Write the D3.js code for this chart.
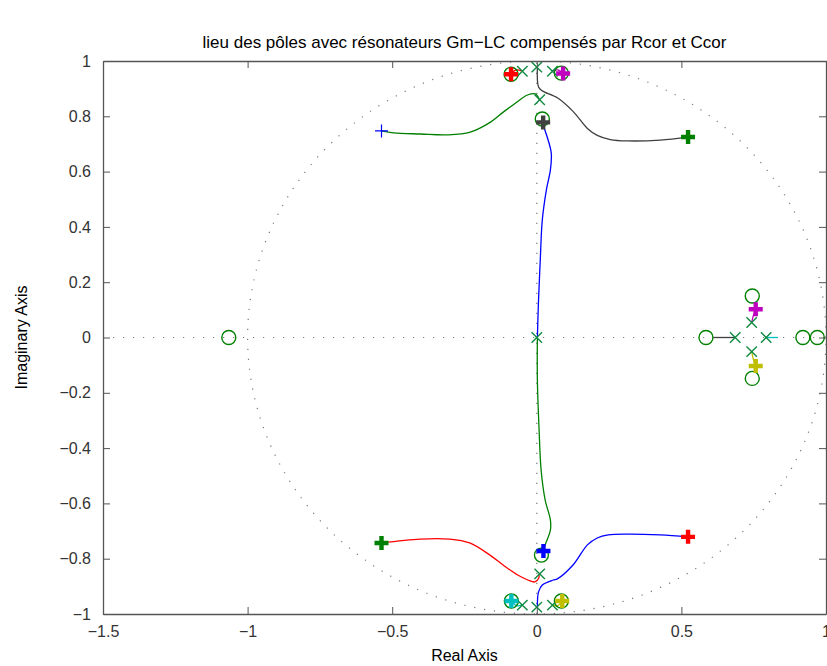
<!DOCTYPE html>
<html><head><meta charset="utf-8">
<script src="https://cdn.jsdelivr.net/npm/d3@7/dist/d3.min.js"></script>
<style>body{margin:0;background:#fff}svg{display:block}text{font-family:"Liberation Sans",Arial,Helvetica,sans-serif}</style>
</head><body>
<svg id="c" width="827" height="666"></svg>
<script>
// ---------- data ----------
const xTicks = [-1.5, -1, -0.5, 0, 0.5, 1];
const yTicks = [-1, -0.8, -0.6, -0.4, -0.2, 0, 0.2, 0.4, 0.6, 0.8, 1];
const titleText = "lieu des pôles avec résonateurs Gm\u2212LC compensés par Rcor et Ccor";

// open-loop poles (x) and zeros (o)
const polesRe = [0, -0.05, 0.054, 0.01, 0, 0.01, -0.05, 0, 0.054, 0.743, 0.686, 0.793, 0.743];
const polesIm = [0.978, 0.963, 0.963, 0.86, 0, -0.855, -0.968, -0.975, -0.968, 0.054, 0, 0, -0.051];
const zerosRe = [-0.089, 0.085, 0.019, 0.745, 0.585, 0.92, 0.97, 0.745, 0.016, -0.088, 0.085, -1.065];
const zerosIm = [0.952, 0.956, 0.79, 0.150, 0, 0, 0, -0.148, -0.787, -0.953, -0.953, 0];

// closed-loop poles at the selected gain (thick +)
const gainRe = [-0.089, 0.091, 0.022, 0.523, -0.537, 0.023, 0.523, -0.088, 0.088, 0.757, 0.757];
const gainIm = [0.952, 0.955, 0.778, 0.725, -0.743, -0.772, -0.721, -0.953, -0.953, 0.102, -0.103];
// thin + end point
const endRe = [-0.537];
const endIm = [0.747];

// root-locus branches
const branchBlackTop = [[0.002,0.978],[0.006,0.906],[0.019,0.892],[0.071,0.867],[0.126,0.817],[0.175,0.756],[0.209,0.731],[0.254,0.716],[0.313,0.711],[0.427,0.714],[0.523,0.725]];
const branchGreenTop = [[-0.537,0.747],[-0.495,0.740],[-0.402,0.736],[-0.309,0.733],[-0.230,0.743],[-0.160,0.779],[-0.115,0.816],[-0.081,0.842],[-0.032,0.877],[-0.005,0.881],[0.009,0.860]];
const branchBlueMid = [[0.019,0.776],[0.036,0.725],[0.050,0.667],[0.047,0.606],[0.033,0.533],[0.019,0.425],[0.012,0.28],[0.006,0.136],[0.002,0]];
const branchGreenMid = [[0.002,0],[0.002,-0.155],[0.008,-0.335],[0.015,-0.48],[0.029,-0.588],[0.047,-0.660],[0.047,-0.697],[0.029,-0.75],[0.019,-0.78]];
const branchRedBot = [[-0.538,-0.743],[-0.403,-0.729],[-0.301,-0.729],[-0.232,-0.743],[-0.162,-0.787],[-0.111,-0.827],[-0.066,-0.859],[-0.031,-0.877],[-0.007,-0.884],[0.007,-0.870],[0.007,-0.855]];
const branchBlueBot = [[0.002,-0.978],[0.006,-0.920],[0.019,-0.895],[0.057,-0.877],[0.071,-0.873],[0.126,-0.822],[0.175,-0.750],[0.209,-0.725],[0.247,-0.714],[0.313,-0.711],[0.427,-0.714],[0.523,-0.721]];
const branchRedTop = [[-0.05,0.963],[-0.07,0.968],[-0.089,0.955]];
const branchMagTop = [[0.054,0.963],[0.072,0.968],[0.091,0.955]];
const branchCyanBot = [[-0.05,-0.968],[-0.07,-0.970],[-0.088,-0.953]];
const branchYelBot = [[0.054,-0.968],[0.072,-0.970],[0.088,-0.953]];
const branchBlackRight = [[0.61,0],[0.686,0]];
const branchCyanRight = [[0.793,0],[0.834,0]];
const branchMagRight = [[0.743,0.054],[0.749,0.08],[0.757,0.102]];
const branchYelRight = [[0.743,-0.051],[0.749,-0.08],[0.757,-0.103]];

// ---------- drawing ----------
const W = 827, H = 666;
const m = {l:103, r:826, t:61, b:614};
const x = d3.scaleLinear().domain([-1.5, 1]).range([m.l, m.r]);
const y = d3.scaleLinear().domain([-1, 1]).range([m.b, m.t]);
const svg = d3.select("#c");

const C = {green:"#008000", blue:"#0000ff", red:"#ff0000", cyan:"#00bfbf", mag:"#bf00bf", yel:"#bfbf00", dark:"#404040", mk:"#108a40"};
const fmt = v => (v < 0 ? "\u2212" : "") + String(Math.abs(v));

const plot = svg.append("g");
svg.append("clipPath").attr("id","pc").append("rect").attr("x",m.l).attr("y",m.t).attr("width",m.r-m.l).attr("height",m.b-m.t);
const inner = plot.append("g").attr("clip-path","url(#pc)");

// dotted grid: unit circle, real and imaginary axes
const circ = d3.range(0, 361, 0.5).map(a => [Math.cos(a*Math.PI/180), Math.sin(a*Math.PI/180)]);
const line = d3.line().x(d => x(d[0])).y(d => y(d[1]));
const dotted = {stroke:"#7a7a7a", "stroke-width":1.2, "stroke-dasharray":"1.2,8.8", fill:"none"};
function sty(sel, o){ for (const k in o) sel.attr(k, o[k]); return sel; }
sty(inner.append("path").attr("d", line(circ)), dotted);
sty(inner.append("path").attr("d", line([[-1.5,0],[1,0]])), dotted);
sty(inner.append("path").attr("d", line([[0,-1],[0,1]])), dotted);

// branches
const branches = [
  [branchBlackTop, C.dark], [branchGreenTop, C.green], [branchBlueMid, C.blue], [branchGreenMid, C.green],
  [branchRedBot, C.red], [branchBlueBot, C.blue], [branchRedTop, C.red], [branchMagTop, C.mag],
  [branchCyanBot, C.cyan], [branchYelBot, C.yel], [branchBlackRight, C.dark], [branchCyanRight, C.cyan],
  [branchMagRight, C.mag], [branchYelRight, C.yel]
];
const curve = d3.line().x(d => x(d[0])).y(d => y(d[1])).curve(d3.curveCatmullRom.alpha(0.5));
branches.forEach(([pts, col]) => {
  inner.append("path").attr("d", curve(pts)).attr("fill","none").attr("stroke",col).attr("stroke-width",1.3);
});

// zeros
zerosRe.forEach((re, i) => {
  inner.append("circle").attr("cx", x(re)).attr("cy", y(zerosIm[i])).attr("r", 7)
    .attr("fill","none").attr("stroke", C.green).attr("stroke-width",1.4);
});
// poles
polesRe.forEach((re, i) => {
  const cx = x(re), cy = y(polesIm[i]), s = 5.2;
  inner.append("path").attr("d", `M${cx-s},${cy-s}L${cx+s},${cy+s}M${cx-s},${cy+s}L${cx+s},${cy-s}`)
    .attr("stroke", C.mk).attr("stroke-width",1.4).attr("fill","none");
});
// thin +
endRe.forEach((re, i) => {
  const cx = x(re), cy = y(endIm[i]), s = 6.5;
  inner.append("path").attr("d", `M${cx-s},${cy}L${cx+s},${cy}M${cx},${cy-s}L${cx},${cy+s}`)
    .attr("stroke", C.blue).attr("stroke-width",1.2);
});
// thick + (closed-loop poles)
const gainCols = [C.red, C.mag, C.dark, C.green, C.green, C.blue, C.red, C.cyan, C.yel, C.mag, C.yel];
gainRe.forEach((re, i) => {
  const cx = x(re), cy = y(gainIm[i]), s = 7;
  inner.append("path").attr("d", `M${cx-s},${cy}L${cx+s},${cy}M${cx},${cy-s}L${cx},${cy+s}`)
    .attr("stroke", gainCols[i]).attr("stroke-width",4.4);
});

// axes box + ticks (inward, all sides)
const axCol = "#555";
const gB = svg.append("g").attr("transform",`translate(0,${m.b})`).call(d3.axisBottom(x).tickValues(xTicks).tickFormat(fmt).tickSizeInner(-7).tickSizeOuter(0).tickPadding(12));
const gT = svg.append("g").attr("transform",`translate(0,${m.t})`).call(d3.axisTop(x).tickValues(xTicks).tickFormat("").tickSizeInner(-7).tickSizeOuter(0));
const gL = svg.append("g").attr("transform",`translate(${m.l},0)`).call(d3.axisLeft(y).tickValues(yTicks).tickFormat(fmt).tickSizeInner(-7).tickSizeOuter(0).tickPadding(12));
const gR = svg.append("g").attr("transform",`translate(${m.r},0)`).call(d3.axisRight(y).tickValues(yTicks).tickFormat("").tickSizeInner(-7).tickSizeOuter(0));
[gB,gT,gL,gR].forEach(g => {
  g.select(".domain").attr("stroke", axCol).attr("stroke-width",1.3);
  g.selectAll(".tick line").attr("stroke", axCol).attr("stroke-width",1);
  g.selectAll(".tick text").attr("fill","#333").style("font-size","16px").style("font-family",'"Liberation Sans",Arial,sans-serif');
});

// title and labels
svg.append("text").attr("x",(m.l+m.r)/2).attr("y",48).attr("text-anchor","middle").style("font-size","17px").attr("fill","#000").text(titleText);
svg.append("text").attr("x",(m.l+m.r)/2).attr("y",661).attr("text-anchor","middle").style("font-size","16px").attr("fill","#000").text("Real Axis");
svg.append("text").attr("transform",`translate(27,${(m.t+m.b)/2}) rotate(-90)`).attr("text-anchor","middle").style("font-size","16px").attr("fill","#000").text("Imaginary Axis");
</script>
</body></html>
